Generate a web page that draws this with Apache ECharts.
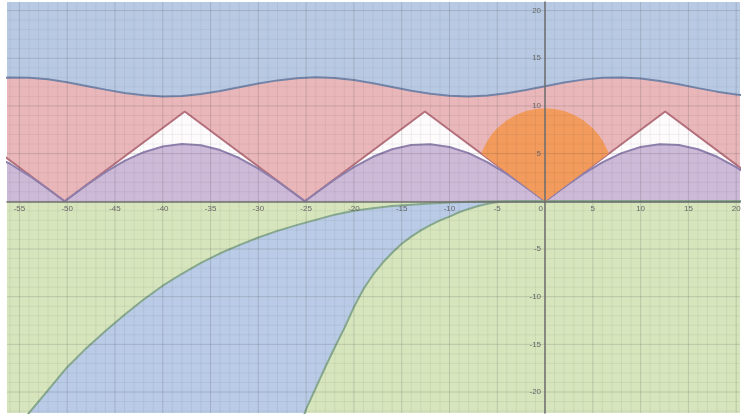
<!DOCTYPE html>
<html><head><meta charset="utf-8">
<script src="https://cdn.jsdelivr.net/npm/echarts@6/dist/echarts.min.js"></script>
<style>html,body{margin:0;padding:0;background:#fff}#c{width:744px;height:416px}</style>
</head><body><div id="c"></div>
<script>
// upper wavy boundary (blue above / pink below)
const waveX = [-58,-56,-54,-52,-50,-48,-46,-44,-42,-40,-38,-36,-34,-32,-30,-28,-26,-24,-22,-20,-18,-16,-14,-12,-10,-8,-6,-4,-2,0,2,4,6,8,10,12,14,16,18,20,22];
const waveY = [12.86,12.99,12.96,12.79,12.49,12.10,11.71,11.36,11.11,11.00,11.05,11.25,11.57,11.95,12.35,12.68,12.91,13.00,12.93,12.71,12.38,11.99,11.60,11.27,11.06,11.00,11.10,11.33,11.68,12.07,12.45,12.76,12.96,12.99,12.88,12.62,12.27,11.87,11.50,11.20,11.03];
// triangle wave (corners)
const triX = [-62.83,-50.27,-37.70,-25.13,-12.57,0,12.57,25.13];
const triY = [9.42,0,9.42,0,9.42,0,9.42,0];
// purple arches
const purpX = [-58,-56,-54,-52,-50.27,-50,-48,-46,-44,-42,-40,-38,-36,-34,-32,-30,-28,-26,-25.13,-24,-22,-20,-18,-16,-14,-12,-10,-8,-6,-4,-2,0,2,4,6,8,10,12,14,16,18,20,22];
const purpY = [4.94,3.94,2.70,1.29,0,0.20,1.68,3.05,4.23,5.15,5.75,6.00,5.87,5.37,4.54,3.43,2.10,0.65,0,0.85,2.29,3.59,4.67,5.46,5.90,5.98,5.69,5.05,4.09,2.88,1.48,0,1.48,2.88,4.09,5.05,5.69,5.98,5.90,5.46,4.67,3.59,2.29];
// orange cap (upper arc) and its lower tip
const orangeX = [-6.67,-6.5,-6,-5.5,-5,-4,-3,-2,-1,0,1,2,3,4,5,5.5,6,6.5,6.67];
const orangeTop = [5.0,5.43,6.4,7.11,7.67,8.51,9.08,9.46,9.68,9.75,9.68,9.46,9.08,8.51,7.67,7.11,6.4,5.43,5.0];
const orangeTip = [0, 0];
// lower curves
const c1X = [-58,-56,-54,-52,-50,-48,-46,-44,-42,-40,-38,-36,-34,-32,-30,-28,-26,-24,-22,-20,-18,-16,-14,-12,-10,-8,-6,-4,25];
const c1Y = [-27.3,-24.7,-22.2,-19.8,-17.4,-15.4,-13.6,-11.9,-10.3,-8.85,-7.6,-6.45,-5.45,-4.6,-3.8,-3.1,-2.5,-1.95,-1.4,-0.98,-0.72,-0.5,-0.35,-0.22,-0.12,-0.06,-0.02,0,0];
const c2X = [-27,-26,-25,-24,-23,-22,-21,-20,-19,-18,-17,-16,-15,-14,-13,-12,-11,-10,-9,-8,-7,-6,-5,-4,-3,25];
const c2Y = [-26.9,-24.6,-21.8,-19.6,-17.4,-15.3,-13.3,-11.1,-9.2,-7.7,-6.45,-5.4,-4.45,-3.7,-3.05,-2.5,-2.0,-1.6,-1.15,-0.8,-0.5,-0.25,-0.08,-0.01,0,0];
// visible window and tick labels
const xRange = [-56.3, 20.4];
const yRange = [-22.2, 20.9];
const xTickLabels = [-55,-50,-45,-40,-35,-30,-25,-20,-15,-10,-5,0,5,10,15,20];
const yTickLabels = [-20,-15,-10,-5,5,10,15,20];
const gridX = []; for (let v = -56; v <= 20; v++) gridX.push(v);
const gridY = []; for (let v = -22; v <= 20; v++) gridY.push(v);

const zip = (xs, ys) => xs.map((x, i) => [x, ys[i]]);
const C = {
  topBlue:'#b8cae3', pink:'#e9b7b9', white:'#fdfbfc', purple:'#cdbad8',
  green:'#d7e5bd', lowBlue:'#b9cbe6', orange:'#f39b5d',
  waveLine:'#7384a8', triLine:'#b5707c', purpLine:'#8f80ad', lowLine:'#86a88e'
};
const FONT = 'Liberation Sans, Arial, sans-serif';
function fill(data, color, origin) {
  return {type:'line', data, showSymbol:false, symbol:'none', z:1, silent:true,
    lineStyle:{width:0}, areaStyle:{color, opacity:1, origin: origin || 'auto'}};
}
function line(data, color) {
  return {type:'line', data, showSymbol:false, symbol:'none', z:2, silent:true,
    lineStyle:{width:2, color}};
}
function gridSeries(values, vertical) {
  return {type:'custom', z:5, silent:true, data: values.map(v => [v]),
    renderItem:(params, api) => {
      const v = api.value(0);
      const a = vertical ? api.coord([v, yRange[0]]) : api.coord([xRange[0], v]);
      const b = vertical ? api.coord([v, yRange[1]]) : api.coord([xRange[1], v]);
      const major = v % 5 === 0;
      return {type:'line', shape:{x1:a[0], y1:a[1], x2:b[0], y2:b[1]},
        style:{stroke: major ? 'rgba(50,50,50,0.17)' : 'rgba(50,50,50,0.07)', lineWidth:1}};
    }};
}
function labelSeries(values, isX) {
  return {type:'custom', z:12, silent:true, data: values.map(v => [v]),
    renderItem:(params, api) => {
      const v = api.value(0);
      const p = isX ? api.coord([v, 0]) : api.coord([0, v]);
      let x = p[0], y = p[1], align = 'center', vAlign = 'top';
      if (isX) { y += 3; if (v === 0) { align = 'right'; x -= 2; } }
      else { x -= 4; align = 'right'; vAlign = 'middle'; }
      return {type:'text', x, y, style:{text:String(v), fontSize:8, fontFamily:FONT,
        fill:'#666', align, verticalAlign:vAlign}};
    }};
}
const chart = echarts.init(document.getElementById('c'), null, {renderer:'canvas'});
chart.setOption({
  animation:false,
  grid:{left:7, right:4, top:2, bottom:3, show:true, backgroundColor:C.green, borderWidth:0,
    containLabel:false, outerBoundsMode:'none'},
  xAxis:{type:'value', min:xRange[0], max:xRange[1], z:10,
    axisLine:{onZero:true, lineStyle:{color:'#6f6f6f', width:1.5}},
    axisTick:{show:false}, splitLine:{show:false}, axisLabel:{show:false}},
  yAxis:{type:'value', min:yRange[0], max:yRange[1], z:10,
    axisLine:{onZero:true, lineStyle:{color:'#6f6f6f', width:1.5}},
    axisTick:{show:false}, splitLine:{show:false}, axisLabel:{show:false}},
  series:[
    fill(zip(waveX, waveY), C.topBlue, 'end'),
    fill(zip(waveX, waveY), C.pink),
    fill(zip(triX, triY), C.white),
    fill(zip(purpX, purpY), C.purple),
    fill(zip(c1X, c1Y), C.lowBlue, 'start'),
    fill(zip(c2X, c2Y), C.green, 'start'),
    line(zip(waveX, waveY), C.waveLine),
    line(zip(triX, triY), C.triLine),
    line(zip(purpX, purpY), C.purpLine),
    line(zip(c1X, c1Y), C.lowLine),
    line(zip(c2X, c2Y), C.lowLine),
    {type:'custom', z:3, silent:true, data:[[0,0]],
      renderItem:(params, api) => {
        const pts = orangeX.map((x, i) => api.coord([x, orangeTop[i]]));
        pts.push(api.coord(orangeTip));
        return {type:'polygon', shape:{points:pts}, style:{fill:C.orange}};
      }},
    gridSeries(gridX, true),
    gridSeries(gridY, false),
    labelSeries(xTickLabels, true),
    labelSeries(yTickLabels, false)
  ]
});
</script></body></html>
